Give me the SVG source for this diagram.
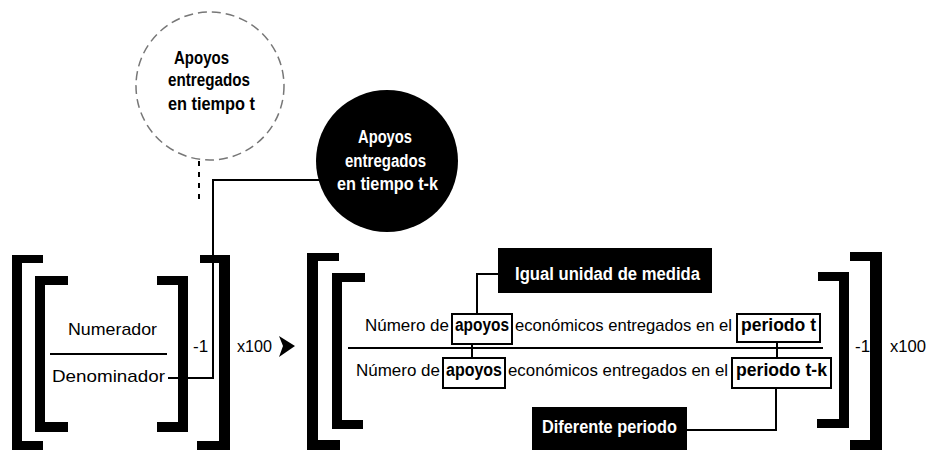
<svg xmlns="http://www.w3.org/2000/svg" width="928" height="450" viewBox="0 0 928 450">
<style>
.t{font-family:"Liberation Sans",Arial,sans-serif;font-size:17px;fill:#000}
.b{font-family:"Liberation Sans",Arial,sans-serif;font-weight:bold;font-size:18px;fill:#000}
.w{font-family:"Liberation Sans",Arial,sans-serif;font-weight:bold;font-size:18px;fill:#fff}
.br{fill:#000}
.ln{stroke:#000;stroke-width:2;fill:none}
.bx{stroke:#000;stroke-width:2;fill:#fff}
</style>
<rect width="928" height="450" fill="#fff"/>

<g id="circle-t">
<circle cx="210" cy="86" r="74" fill="#fff" stroke="#777" stroke-width="1.5" stroke-dasharray="9 5"/>
<text class="b" x="174" y="64" font-size="15" textLength="55" lengthAdjust="spacingAndGlyphs">Apoyos</text>
<text class="b" x="168" y="86" font-size="15" textLength="82" lengthAdjust="spacingAndGlyphs">entregados</text>
<text class="b" x="168" y="110" font-size="15" textLength="87" lengthAdjust="spacingAndGlyphs">en tiempo t</text>
</g>

<g id="circle-tk">
<circle cx="387" cy="161" r="71" fill="#000"/>
<text class="w" x="358" y="143" font-size="15" textLength="54" lengthAdjust="spacingAndGlyphs">Apoyos</text>
<text class="w" x="345" y="167" font-size="15" textLength="81" lengthAdjust="spacingAndGlyphs">entregados</text>
<text class="w" x="337" y="190" font-size="15" textLength="101" lengthAdjust="spacingAndGlyphs">en tiempo t-k</text>
</g>

<g id="connectors">
<path class="ln" d="M199,161 V203" stroke="#777" stroke-width="1.5" stroke-dasharray="5 6"/>
<path class="ln" d="M168,378 H213 V180 H320"/>
<path class="ln" d="M498,274 H477 V314"/>
<path class="ln" d="M472,344 V358"/>
<path class="ln" d="M777,342 V358"/>
<path class="ln" d="M687,430 H776 V388"/>
</g>

<g id="formula-left">
<rect class="br" x="12" y="255" width="10" height="195"/>
<rect class="br" x="12" y="255" width="31" height="8"/>
<rect class="br" x="12" y="441" width="31" height="9"/>
<rect class="br" x="35" y="276" width="10" height="156"/>
<rect class="br" x="35" y="276" width="33" height="9"/>
<rect class="br" x="35" y="422" width="33" height="10"/>
<rect class="br" x="178" y="276" width="10" height="156"/>
<rect class="br" x="157" y="276" width="31" height="9"/>
<rect class="br" x="157" y="422" width="31" height="10"/>
<rect class="br" x="219" y="255" width="11" height="195"/>
<rect class="br" x="200" y="255" width="30" height="8"/>
<rect class="br" x="197" y="441" width="33" height="9"/>
<text class="t" x="68" y="335" textLength="89" lengthAdjust="spacingAndGlyphs">Numerador</text>
<line class="ln" x1="50" y1="354" x2="167" y2="354"/>
<text class="t" x="52" y="382" textLength="113" lengthAdjust="spacingAndGlyphs">Denominador</text>
<text class="t" x="193" y="352">-1</text>
<text class="t" x="237" y="352" textLength="35" lengthAdjust="spacingAndGlyphs">x100</text>
<polygon points="279,336 295,346 279,357 283,346" fill="#000"/>
</g>

<g id="formula-right">
<rect class="br" x="307" y="253" width="11" height="197"/>
<rect class="br" x="307" y="253" width="32" height="8"/>
<rect class="br" x="307" y="440" width="33" height="10"/>
<rect class="br" x="332" y="273" width="10" height="156"/>
<rect class="br" x="332" y="273" width="33" height="9"/>
<rect class="br" x="332" y="420" width="31" height="9"/>
<rect class="br" x="839" y="272" width="10" height="156"/>
<rect class="br" x="818" y="272" width="31" height="9"/>
<rect class="br" x="817" y="419" width="32" height="9"/>
<rect class="br" x="870" y="252" width="12" height="198"/>
<rect class="br" x="850" y="252" width="32" height="9"/>
<rect class="br" x="850" y="440" width="32" height="10"/>
<line class="ln" x1="348" y1="348" x2="823" y2="348"/>
<text class="t" x="855" y="352">-1</text>
<text class="t" x="890" y="352" textLength="36" lengthAdjust="spacingAndGlyphs">x100</text>
</g>

<g id="numerator">
<text class="t" x="365" y="331" textLength="84" lengthAdjust="spacingAndGlyphs">Número de</text>
<rect class="bx" x="452" y="314" width="60" height="30"/>
<text class="b" x="455" y="331" textLength="54" lengthAdjust="spacingAndGlyphs">apoyos</text>
<text class="t" x="515" y="331" textLength="217" lengthAdjust="spacingAndGlyphs">económicos entregados en el</text>
<rect class="bx" x="737" y="314" width="83" height="28"/>
<text class="b" x="741" y="331" textLength="75" lengthAdjust="spacingAndGlyphs">periodo t</text>
</g>

<g id="denominator">
<text class="t" x="356" y="376" textLength="84" lengthAdjust="spacingAndGlyphs">Número de</text>
<rect class="bx" x="443" y="358" width="62" height="30"/>
<text class="b" x="446" y="376" textLength="56" lengthAdjust="spacingAndGlyphs">apoyos</text>
<text class="t" x="508" y="376" textLength="220" lengthAdjust="spacingAndGlyphs">económicos entregados en el</text>
<rect class="bx" x="732" y="358" width="99" height="30"/>
<text class="b" x="736" y="376" textLength="91" lengthAdjust="spacingAndGlyphs">periodo t-k</text>
</g>

<g id="igual">
<rect x="498" y="248" width="214" height="45" fill="#000"/>
<text class="w" x="515" y="280" textLength="185" lengthAdjust="spacingAndGlyphs">Igual unidad de medida</text>
</g>

<g id="diferente">
<rect x="532" y="407" width="155" height="43" fill="#000"/>
<text class="w" x="542" y="433" textLength="135" lengthAdjust="spacingAndGlyphs">Diferente periodo</text>
</g>
</svg>
